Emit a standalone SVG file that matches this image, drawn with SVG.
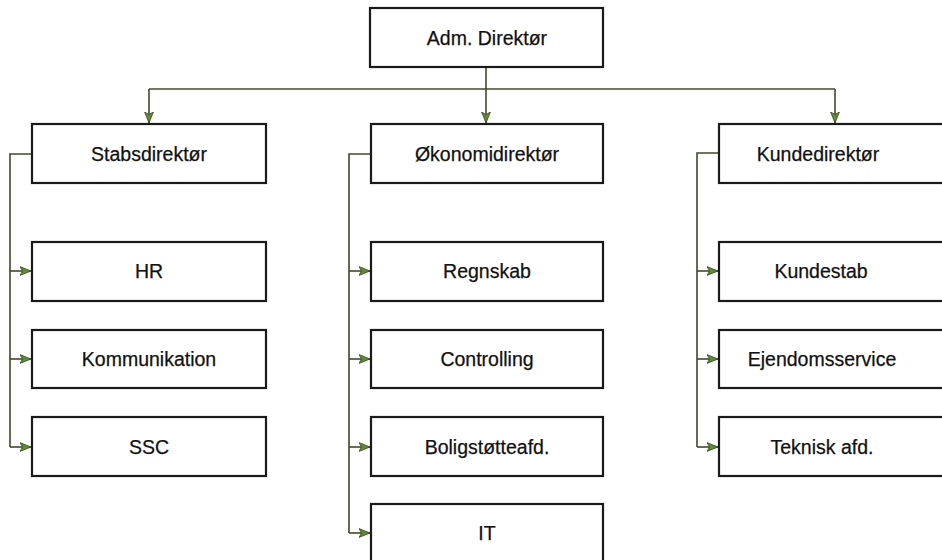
<svg xmlns="http://www.w3.org/2000/svg" width="942" height="560" viewBox="0 0 942 560">
<defs>
<style>
.box{fill:#fff;stroke:#1a1a1a;stroke-width:2.2}
.lbl{font-family:"Liberation Sans",Arial,sans-serif;font-size:19.5px;fill:#111;stroke:#111;stroke-width:0.25;text-anchor:middle}
.con{fill:none;stroke:#3f4a28;stroke-width:1.6}
</style>
<marker id="ah" viewBox="0 0 12 10" refX="11.5" refY="5" markerWidth="12" markerHeight="10" markerUnits="userSpaceOnUse" orient="auto">
<path d="M0.5,0.6 L11.5,5 L0.5,9.4 L3,5 Z" fill="#5f8a38" stroke="#3a4a22" stroke-width="0.8"/>
</marker>
</defs>
<rect width="942" height="560" fill="#fff"/>
<g id="connectors">
<path class="con" d="M486,67 V123" marker-end="url(#ah)"/>
<path class="con" d="M149,89 H835"/>
<path class="con" d="M149,89 V123" marker-end="url(#ah)"/>
<path class="con" d="M835,89 V123" marker-end="url(#ah)"/>
<path class="con" d="M32,154 H10 V447"/>
<path class="con" d="M10,271 H31" marker-end="url(#ah)"/>
<path class="con" d="M10,359 H31" marker-end="url(#ah)"/>
<path class="con" d="M10,447 H31" marker-end="url(#ah)"/>
<path class="con" d="M371,154 H349 V533"/>
<path class="con" d="M349,271 H370" marker-end="url(#ah)"/>
<path class="con" d="M349,359 H370" marker-end="url(#ah)"/>
<path class="con" d="M349,447 H370" marker-end="url(#ah)"/>
<path class="con" d="M349,533 H370" marker-end="url(#ah)"/>
<path class="con" d="M719,153 H697 V447"/>
<path class="con" d="M697,271 H718" marker-end="url(#ah)"/>
<path class="con" d="M697,359 H718" marker-end="url(#ah)"/>
<path class="con" d="M697,447 H718" marker-end="url(#ah)"/>
</g>
<g id="adm"><rect class="box" x="370" y="8" width="233" height="59"/><text class="lbl" x="487" y="45">Adm. Direktør</text></g>
<g id="stab"><rect class="box" x="32" y="124" width="234" height="59"/><text class="lbl" x="149" y="161">Stabsdirektør</text></g>
<g id="oko"><rect class="box" x="371" y="124" width="232" height="59"/><text class="lbl" x="487" y="161">Økonomidirektør</text></g>
<g id="kunde"><rect class="box" x="719" y="124" width="240" height="59"/><text class="lbl" x="818" y="161">Kundedirektør</text></g>
<g id="hr"><rect class="box" x="32" y="242" width="234" height="59"/><text class="lbl" x="149" y="278">HR</text></g>
<g id="komm"><rect class="box" x="32" y="330" width="234" height="58"/><text class="lbl" x="149" y="366">Kommunikation</text></g>
<g id="ssc"><rect class="box" x="32" y="417" width="234" height="59"/><text class="lbl" x="149" y="454">SSC</text></g>
<g id="regnskab"><rect class="box" x="371" y="242" width="232" height="59"/><text class="lbl" x="487" y="278">Regnskab</text></g>
<g id="controlling"><rect class="box" x="371" y="330" width="232" height="58"/><text class="lbl" x="487" y="366">Controlling</text></g>
<g id="bolig"><rect class="box" x="371" y="417" width="232" height="59"/><text class="lbl" x="487" y="454">Boligstøtteafd.</text></g>
<g id="it"><rect class="box" x="371" y="504" width="232" height="59"/><text class="lbl" x="487" y="540">IT</text></g>
<g id="kundestab"><rect class="box" x="719" y="242" width="240" height="59"/><text class="lbl" x="821" y="278">Kundestab</text></g>
<g id="ejendom"><rect class="box" x="719" y="330" width="240" height="58"/><text class="lbl" x="822" y="366">Ejendomsservice</text></g>
<g id="teknisk"><rect class="box" x="719" y="417" width="240" height="59"/><text class="lbl" x="822" y="454">Teknisk afd.</text></g>
</svg>
